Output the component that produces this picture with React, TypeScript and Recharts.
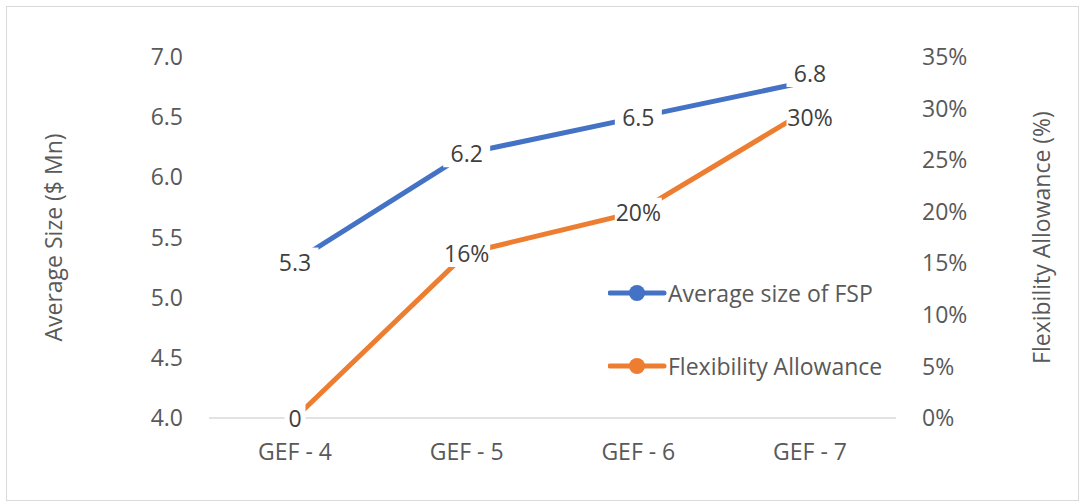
import { LineChart, Line, XAxis, YAxis, Legend, LabelList } from 'recharts'

const categories = ['GEF - 4', 'GEF - 5', 'GEF - 6', 'GEF - 7']
const avgSize = [5.3, 6.2, 6.5, 6.8]
const flexAllowance = [0, 16, 20, 30]
const leftTicks = [4.0, 4.5, 5.0, 5.5, 6.0, 6.5, 7.0]
const rightTicks = [0, 5, 10, 15, 20, 25, 30, 35]

const BLUE = '#4472C4'
const ORANGE = '#ED7D31'
const FONT = '"Open Sans", "Noto Sans", sans-serif'
const FS = 23

const data = categories.map((name, i) => ({ name, size: avgSize[i], flex: flexAllowance[i] }))

// labels at the last category sit close together, push them apart a little
function BoxLabel(props: any) {
    const { x, y, value, fmt, index, lastShift } = props
    if (x == null || y == null) return null
    const text = fmt(value)
    const w = text.length * 13 + 8
    const cy = y + (index === categories.length - 1 ? lastShift : 0)
    return (
        <g>
            <rect x={x - w / 2} y={cy - 14} width={w} height={28} fill="#fff" />
            <text x={x} y={cy} textAnchor="middle" dominantBaseline="central" fill="#404040" fontSize={FS} fontFamily={FONT}>
                {text}
            </text>
        </g>
    )
}

function LegendBox() {
    const items = [
        { label: 'Average size of FSP', color: BLUE },
        { label: 'Flexibility Allowance', color: ORANGE },
    ]
    return (
        <div>
            {items.map((it) => (
                <div key={it.label} style={{ display: 'flex', alignItems: 'center', height: 30, marginBottom: 43 }}>
                    <svg width={60} height={20}>
                        <line x1={2} y1={10} x2={56} y2={10} stroke={it.color} strokeWidth={5} strokeLinecap="round" />
                        <circle cx={29} cy={10} r={8} fill={it.color} />
                    </svg>
                    <span style={{ color: '#595959', fontSize: FS, fontFamily: FONT, whiteSpace: 'nowrap', lineHeight: '30px' }}>{it.label}</span>
                </div>
            ))}
        </div>
    )
}

export default function App() {
    return (
        <div style={{ position: 'fixed', left: 0, top: 0, width: 1083, height: 504, background: '#fff' }}>
            <div style={{ position: 'absolute', left: 6, top: 6, width: 1071, height: 493, border: '1px solid #d9d9d9' }} />
            <LineChart width={1083} height={504} data={data} margin={{ top: 57, right: 107, bottom: 46, left: 129 }}>
                <XAxis
                    dataKey="name"
                    padding={{ left: 86, right: 86 }}
                    axisLine={{ stroke: '#d9d9d9', strokeWidth: 1.5 }}
                    tickLine={false}
                    tick={{ fill: '#595959', fontSize: FS, fontFamily: FONT }}
                    tickMargin={20}
                    height={40}
                />
                <YAxis
                    yAxisId="left"
                    domain={[4, 7]}
                    ticks={leftTicks}
                    tickFormatter={(v: number) => v.toFixed(1)}
                    axisLine={false}
                    tickLine={false}
                    tickSize={0}
                    tickMargin={26}
                    width={80}
                    tick={{ fill: '#595959', fontSize: FS, fontFamily: FONT }}
                    label={{ value: 'Average Size ($ Mn)', angle: -90, position: 'center', dx: -115, fill: '#595959', fontSize: FS, fontFamily: FONT }}
                />
                <YAxis
                    yAxisId="right"
                    orientation="right"
                    domain={[0, 35]}
                    ticks={rightTicks}
                    tickFormatter={(v: number) => `${v}%`}
                    axisLine={false}
                    tickLine={false}
                    tickSize={0}
                    tickMargin={26}
                    width={80}
                    tick={{ fill: '#595959', fontSize: FS, fontFamily: FONT, textAnchor: 'start' }}
                    label={{ value: 'Flexibility Allowance (%)', angle: -90, position: 'center', dx: 106, fill: '#595959', fontSize: FS, fontFamily: FONT }}
                />
                <Legend
                    layout="vertical"
                    align="center"
                    verticalAlign="middle"
                    content={<LegendBox />}
                    wrapperStyle={{ left: 608, top: 278, width: 300 }}
                />
                <Line
                    yAxisId="left"
                    dataKey="size"
                    name="Average size of FSP"
                    stroke={BLUE}
                    strokeWidth={5}
                    strokeLinecap="round"
                    dot={false}
                    isAnimationActive={false}
                >
                    <LabelList dataKey="size" content={<BoxLabel fmt={(v: number) => v.toFixed(1)} lastShift={-8} />} />
                </Line>
                <Line
                    yAxisId="right"
                    dataKey="flex"
                    name="Flexibility Allowance"
                    stroke={ORANGE}
                    strokeWidth={5}
                    strokeLinecap="round"
                    dot={false}
                    isAnimationActive={false}
                >
                    <LabelList dataKey="flex" content={<BoxLabel fmt={(v: number) => (v === 0 ? '0' : `${v}%`)} lastShift={8} />} />
                </Line>
            </LineChart>
        </div>
    )
}
